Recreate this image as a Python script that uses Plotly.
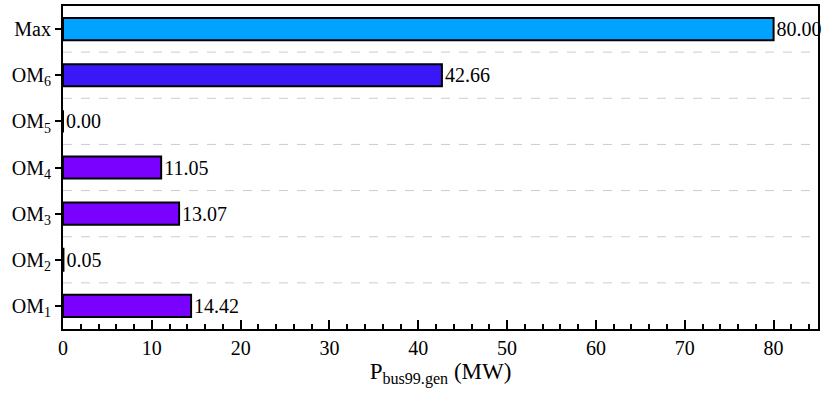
import plotly.graph_objects as go

categories = ["OM<sub>1</sub>", "OM<sub>2</sub>", "OM<sub>3</sub>", "OM<sub>4</sub>", "OM<sub>5</sub>", "OM<sub>6</sub>", "Max"]
values = [14.42, 0.05, 13.07, 11.05, 0.00, 42.66, 80.00]
labels = ["14.42", "0.05", "13.07", "11.05", "0.00", "42.66", "80.00"]
colors = ["#7A00FF", "#7A00FF", "#7A00FF", "#7A00FF", "#7A00FF", "#3A17F7", "#00A3FF"]
x_ticks = [0, 10, 20, 30, 40, 50, 60, 70, 80]

FONT = "Liberation Serif, Times New Roman, serif"
pos = list(range(len(categories)))

fig = go.Figure()
fig.add_trace(go.Bar(
    y=pos, x=values, orientation="h", width=0.48,
    marker=dict(color=colors, line=dict(color="black", width=2)),
    text=labels, textposition="outside", cliponaxis=False,
    textfont=dict(family=FONT, size=20, color="black"),
))

for i in range(len(categories) - 1):
    fig.add_shape(type="line", xref="paper", yref="y", x0=0, x1=0.99, y0=i + 0.5, y1=i + 0.5,
                  line=dict(color="#CCCCCC", width=1, dash="dash"), layer="below")

fig.update_layout(
    width=822, height=396,
    margin=dict(l=63, r=4, t=6, b=67),
    plot_bgcolor="white", paper_bgcolor="white",
    showlegend=False,
    font=dict(family=FONT, size=20, color="black"),
    xaxis=dict(
        range=[0, 85], tickvals=x_ticks, showgrid=False, zeroline=False, automargin=False,
        showline=True, linecolor="black", linewidth=2, mirror=True,
        ticks="inside", ticklen=9, tickwidth=2, tickcolor="black",
        minor=dict(dtick=2, ticks="inside", ticklen=5, tickwidth=2, tickcolor="black", showgrid=False),
        tickfont=dict(family=FONT, size=20),
        title=dict(text="P<sub>bus99.gen</sub> (MW)", font=dict(family=FONT, size=23), standoff=2),
    ),
    yaxis=dict(
        range=[-0.5, 6.5], tickvals=pos, ticktext=categories, showgrid=False, zeroline=False, automargin=False,
        showline=True, linecolor="black", linewidth=2, mirror=True,
        ticks="outside", ticklen=6, tickwidth=2, tickcolor="black",
        tickfont=dict(family=FONT, size=20),
    ),
)

fig.write_html("out.html", config={"displayModeBar": False},
               post_script="document.body.style.margin='0';document.body.style.overflow='hidden';")
